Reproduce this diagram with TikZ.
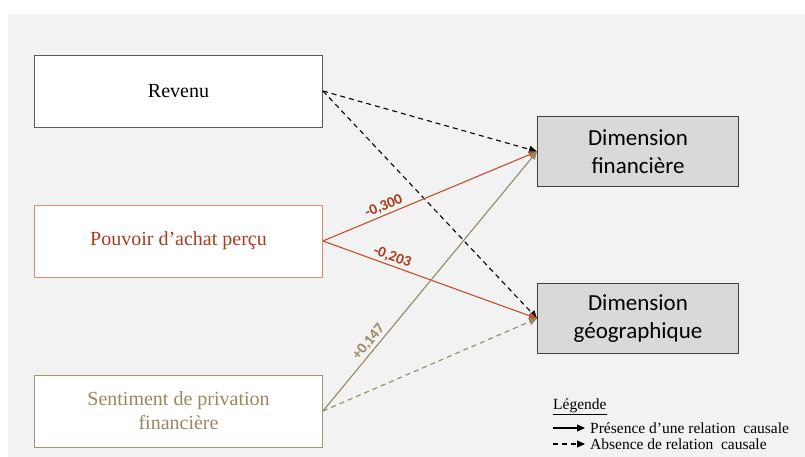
\documentclass[tikz,border=0pt]{standalone}
\usepackage{fontspec}
\setmainfont{Liberation Serif}
\newfontfamily\calibri{Carlito}
\usetikzlibrary{arrows.meta}
\definecolor{bgc}{HTML}{F2F2F2}
\definecolor{redl}{RGB}{192,80,45}
\definecolor{redt}{RGB}{170,60,30}
\definecolor{redb}{RGB}{210,140,115}
\definecolor{tanl}{RGB}{150,135,100}
\definecolor{tant}{RGB}{155,135,95}
\definecolor{tanb}{RGB}{165,150,115}
\definecolor{dimf}{HTML}{D9D9D9}
\begin{document}
\begin{tikzpicture}[x=1pt,y=-1pt,
 src/.style={draw, fill=white, minimum width=288pt, minimum height=72pt, inner sep=0pt, font=\fontsize{20}{24}\selectfont, align=center, line width=0.9pt},
 dim/.style={draw=black!75, fill=dimf, minimum width=201pt, minimum height=70pt, inner sep=0pt, font=\calibri\fontsize{23}{28}\selectfont, align=center, line width=0.9pt},
 arr/.style={line width=1.1pt, -{Triangle[length=8pt,width=7pt]}},
 dsh/.style={arr, dash pattern=on 5pt off 4pt},
 coef/.style={font=\calibri\bfseries\fontsize{15}{17}\selectfont, sloped, above, inner sep=2pt},
 legtext/.style={anchor=base west, inner sep=0pt, font=\fontsize{15.5}{18}\selectfont},
]
\useasboundingbox (0,0) rectangle (805,457);
\fill[bgc] (8,14) rectangle (805,457);

\node[src, draw=black!65] (rev) at (178.5,91) {Revenu};
\node[src, draw=redb, text=redt] (pou) at (178.5,241) {Pouvoir d’achat perçu};
\node[src, draw=tanb, text=tant] (sen) at (178.5,411) {Sentiment de privation\\financière};

\node[dim] (df) at (638,151.5) {Dimension\\financière};
\node[dim] (dg) at (638,318.5) {Dimension\\géographique};

\draw[dsh, black] (rev.east) -- (df.west);
\draw[dsh, black] (rev.east) -- (dg.west);
\draw[arr, redl] (pou.east) -- node[coef, pos=0.3, text=redt] {-0,300} (df.west);
\draw[arr, redl] (pou.east) -- node[coef, pos=0.31, text=redt] {-0,203} (dg.west);
\draw[arr, tanl] (sen.east) -- node[coef, pos=0.245, text=tant] {+0,147} (df.west);
\draw[dsh, tanl] (sen.east) -- (dg.west);

\node[legtext] (leg) at (553,409) {\underline{Légende}};
\coordinate (s1) at (553,428);
\coordinate (e1) at (585,428);
\coordinate (s2) at (553,444);
\coordinate (e2) at (585,444);
\draw[arr, black] (s1) -- (e1);
\draw[dsh, black] (s2) -- (e2);
\node[legtext] (l1) at (590,433) {Présence d’une relation\ \ causale};
\node[legtext] (l2) at (590,449) {Absence de relation\ \ causale};
\end{tikzpicture}
\end{document}
